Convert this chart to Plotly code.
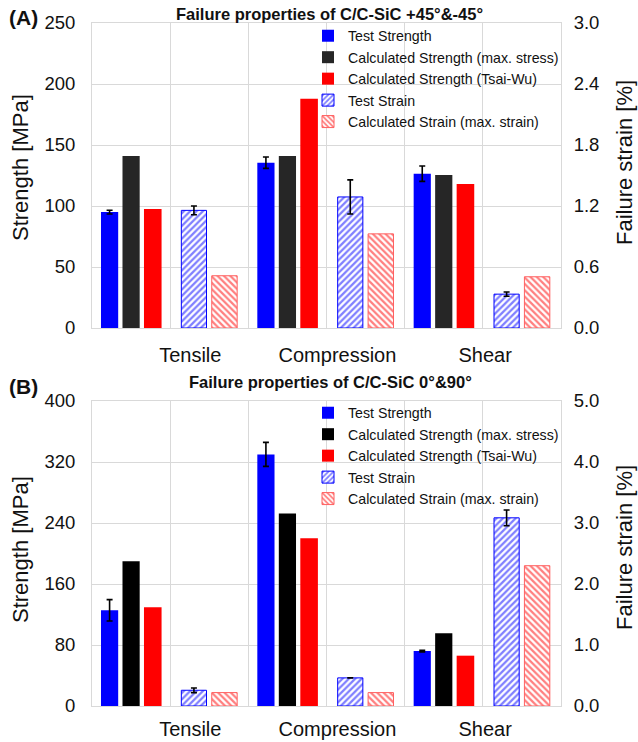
import plotly.graph_objects as go

categories = ["Tensile", "Compression", "Shear"]
series_names = ["Test Strength", "Calculated Strength (max. stress)", "Calculated Strength (Tsai-Wu)",
                "Test Strain", "Calculated Strain (max. strain)"]

# Panel A: C/C-SiC +45°&-45°
a_test_strength = [95, 135.5, 126.5]
a_test_strength_err = [1.5, 4.7, 6.3]
a_calc_strength_maxstress = [141, 141, 125.5]
a_calc_strength_tsaiwu = [97.5, 188, 118]
a_test_strain = [1.157, 1.289, 0.333]
a_test_strain_err = [0.043, 0.168, 0.021]
a_calc_strain_maxstrain = [0.514, 0.926, 0.504]

# Panel B: C/C-SiC 0°&90°
b_test_strength = [125.5, 330, 72]
b_test_strength_err = [14, 15.8, 1.0]
b_calc_strength_maxstress = [190, 252.5, 95.3]
b_calc_strength_tsaiwu = [129.5, 220, 66]
b_test_strain = [0.258, 0.461, 3.085]
b_test_strain_err = [0.038, None, 0.129]
b_calc_strain_maxstrain = [0.22, 0.22, 2.3]

FONT = "Liberation Sans, Arial, sans-serif"
BLUE = "#0000ff"
RED = "#ff0000"
GRID = "#d9d9d9"
TXT = "#111111"

fig = go.Figure()

n = len(categories)
strength_x = [2 * i + 0.5 for i in range(n)]
strain_x = [2 * i + 1.5 for i in range(n)]

def add_panel(xa, yl, yr, legend, ts, tse, cs, ctw, tn, tne, cn, black):
    err = dict(type="data", array=tse, color="black", thickness=1.6, width=3, visible=True)
    fig.add_trace(go.Bar(x=strength_x, y=ts, name=series_names[0], xaxis=xa, yaxis=yl, legend=legend,
                         marker=dict(color=BLUE, line=dict(width=0)), offset=-0.385, width=0.22,
                         error_y=err))
    fig.add_trace(go.Bar(x=strength_x, y=cs, name=series_names[1], xaxis=xa, yaxis=yl, legend=legend,
                         marker=dict(color=black, line=dict(width=0)), offset=-0.11, width=0.22))
    fig.add_trace(go.Bar(x=strength_x, y=ctw, name=series_names[2], xaxis=xa, yaxis=yl, legend=legend,
                         marker=dict(color=RED, line=dict(width=0)), offset=0.165, width=0.225))
    fig.add_trace(go.Bar(x=strain_x, y=tn, name=series_names[3], xaxis=xa, yaxis=yr, legend=legend,
                         marker=dict(color="white", line=dict(color=BLUE, width=1),
                                     pattern=dict(shape="/", fgcolor=BLUE, bgcolor="white", size=4.5, solidity=0.5)),
                         offset=-0.357, width=0.322,
                         error_y=dict(type="data", array=tne, color="black", thickness=1.6, width=3, visible=True)))
    fig.add_trace(go.Bar(x=strain_x, y=cn, name=series_names[4], xaxis=xa, yaxis=yr, legend=legend,
                         marker=dict(color="white", line=dict(color="#ff6060", width=1),
                                     pattern=dict(shape="\\", fgcolor=RED, bgcolor="white", size=4.5, solidity=0.5)),
                         offset=0.032, width=0.325))

add_panel("x", "y", "y2", "legend", a_test_strength, a_test_strength_err, a_calc_strength_maxstress,
          a_calc_strength_tsaiwu, a_test_strain, a_test_strain_err, a_calc_strain_maxstrain, "#262626")
add_panel("x2", "y3", "y4", "legend2", b_test_strength, b_test_strength_err, b_calc_strength_maxstress,
          b_calc_strength_tsaiwu, b_test_strain, b_test_strain_err, b_calc_strain_maxstrain, "#000000")

L, R, T, B = 92, 77, 23, 36
W, H = 638, 742
pw, ph = W - L - R, H - T - B

def py(ypx):
    return (H - B - ypx) / ph

def px(xpx):
    return (xpx - L) / pw

label_pos = [1.257, 3.14, 5.03]
CLEAR = "rgba(0,0,0,0)"

xcommon = dict(range=[0, 6], showgrid=False, zeroline=False, showline=True, mirror=True, linecolor=GRID,
               linewidth=1, tickvals=label_pos, ticktext=categories, ticks="",
               tickfont=dict(family=FONT, size=20, color=TXT),
               minor=dict(tickvals=[1, 2, 3, 4, 5], showgrid=True, gridcolor=GRID, gridwidth=1, ticks=""))
ycommon = dict(showgrid=True, gridcolor=GRID, gridwidth=1, zeroline=False, showline=True, mirror=True,
               linecolor=GRID, ticks="outside", ticklen=12, tickcolor=CLEAR,
               tickfont=dict(family=FONT, size=18.5, color=TXT))
yright = dict(showgrid=False, zeroline=False, showline=False, ticks="outside", ticklen=8, tickcolor=CLEAR,
              side="right", tickfont=dict(family=FONT, size=18.5, color=TXT), tickformat=".1f")

top_dom = [py(328), 1.0]
bot_dom = [0.0, py(401)]

leg = dict(xanchor="left", yanchor="top", bgcolor="rgba(0,0,0,0)",
           font=dict(family=FONT, size=14.2, color=TXT), itemwidth=30)

fig.update_layout(
    width=W, height=H,
    margin=dict(l=L, r=R, t=T, b=B, autoexpand=False),
    paper_bgcolor="white", plot_bgcolor="white",
    barmode="overlay",
    font=dict(family=FONT, color=TXT),
    xaxis=dict(domain=[0, 1], anchor="y", ticklabelstandoff=9, **xcommon),
    yaxis=dict(domain=top_dom, anchor="x", range=[0, 250], dtick=50, **ycommon),
    yaxis2=dict(overlaying="y", anchor="x", range=[0, 3.0], dtick=0.6, **yright),
    xaxis2=dict(domain=[0, 1], anchor="y3", ticklabelstandoff=5, **xcommon),
    yaxis3=dict(domain=bot_dom, anchor="x2", range=[0, 400], dtick=80, **ycommon),
    yaxis4=dict(overlaying="y3", anchor="x2", range=[0, 5.0], dtick=1.0, **yright),
    legend=dict(x=px(308), y=py(20), **leg),
    legend2=dict(x=px(308), y=py(397), **leg),
    showlegend=True,
)

annos = [
    dict(text="<b>Failure properties of C/C-SiC +45°&-45°</b>", x=px(329), y=py(14), font=dict(size=16.5)),
    dict(text="<b>Failure properties of C/C-SiC 0°&90°</b>", x=px(330), y=py(382), font=dict(size=16.5)),
    dict(text="<b>(A)</b>", x=px(23), y=py(17), font=dict(size=21)),
    dict(text="<b>(B)</b>", x=px(23), y=py(386), font=dict(size=21)),
    dict(text="Strength [MPa]", x=px(20), y=py(168), textangle=-90, font=dict(size=22)),
    dict(text="Strength [MPa]", x=px(20), y=py(550), textangle=-90, font=dict(size=22)),
    dict(text="Failure strain [%]", x=px(624), y=py(163), textangle=-90, font=dict(size=22)),
    dict(text="Failure strain [%]", x=px(624), y=py(548), textangle=-90, font=dict(size=22)),
]
for a in annos:
    f = dict(family=FONT, color=TXT)
    f.update(a.pop("font"))
    fig.add_annotation(xref="paper", yref="paper", showarrow=False, xanchor="center", yanchor="middle",
                       font=f, **a)

fig.write_html("out.html", config={"displayModeBar": False},
               post_script="document.body.style.margin='0px';document.body.style.padding='0px';")
